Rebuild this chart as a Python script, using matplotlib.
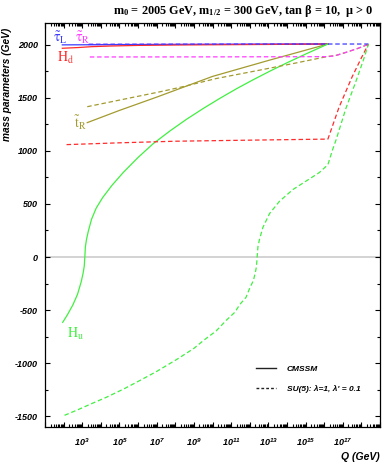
import numpy as np
import matplotlib
matplotlib.use("Agg")
import matplotlib.pyplot as plt
from matplotlib.ticker import FixedLocator, FixedFormatter, LogLocator, MultipleLocator, NullFormatter
from matplotlib.lines import Line2D

# ---------------------------------------------------------------
# data: log10(Q/GeV) and mass parameter (GeV)
# ---------------------------------------------------------------
# CMSSM (solid)
tauL_q = [1.93, 8.0, 16.2]
tauL_m = [1997, 2001, 2005]
tauR_q = [3.35, 10.0, 16.2]
tauR_m = [2000, 2002, 2005]
hd_q = [1.93, 2.8, 3.5, 4.5, 6.0, 8.0, 10.0, 13.0, 16.2]
hd_m = [1965, 1972, 1980, 1986, 1992, 1996, 1998, 2001, 2005]
tR_q = [3.27, 5.0, 7.0, 10.0, 13.0, 16.2]
tR_m = [1265, 1380, 1505, 1700, 1850, 2005]
hu_q = [1.95, 2.2, 2.5, 2.75, 2.95, 3.05, 3.11, 3.14, 3.17, 3.23, 3.33, 3.5, 3.75, 4.1,
        4.6, 5.2, 6.0, 6.8, 7.7, 8.6, 9.5, 10.4, 11.3, 12.2, 13.1, 14.0, 15.0, 16.2]
hu_m = [-615, -545, -450, -350, -230, -150, -85, 0, 96, 166, 245, 355, 460, 560,
        675, 795, 937, 1065, 1185, 1296, 1398, 1494, 1585, 1670, 1751, 1828, 1910, 2005]

# SU(5): lambda = 1, lambda' = 0.1 (dashed)
tauL5_q = [3.35, 10.0, 16.2, 18.38]
tauL5_m = [2003, 2004, 2005, 2005]
tauR5_q = [3.41, 10.0, 16.2, 16.6, 17.2, 17.8, 18.38]
tauR5_m = [1883, 1884, 1886, 1895, 1928, 1963, 2003]
tR5_q = [3.27, 5.5, 7.2, 8.4, 10.2, 12.5, 14.3, 16.2, 16.6, 17.2, 17.8, 18.38]
tR5_m = [1415, 1495, 1556, 1603, 1680, 1758, 1820, 1888, 1896, 1928, 1963, 2003]
hd5_q = [2.16, 5.0, 8.0, 12.0, 16.2, 16.8, 17.5, 18.0, 18.38]
hd5_m = [1058, 1075, 1090, 1100, 1110, 1410, 1695, 1875, 2005]
hu5_q = [2.05, 2.8, 3.44, 4.3, 5.22, 6.1, 7.01, 8.08, 9.0, 9.5, 10.2, 10.75, 11.2, 11.47,
         11.8, 12.0, 12.2, 12.3, 12.36, 12.4, 12.44, 12.53, 12.71, 13.07, 13.6, 14.32,
         15.03, 15.74, 16.2, 16.45, 16.64, 17.17, 17.7, 18.1, 18.38]
hu5_m = [-1490, -1435, -1385, -1320, -1243, -1162, -1076, -964, -860, -788, -695, -594,
         -520, -446, -380, -293, -220, -146, -93, 0, 95, 170, 280, 410, 525, 635,
         715, 795, 869, 1009, 1103, 1400, 1650, 1850, 2003]

y_ticks = [-1500, -1000, -500, 0, 500, 1000, 1500, 2000]
x_decades = list(range(1, 20))
x_label_exps = [3, 5, 7, 9, 11, 13, 15, 17]

# ---------------------------------------------------------------
plt.rcParams['mathtext.fontset'] = 'custom'
plt.rcParams['mathtext.rm'] = 'Liberation Serif'
plt.rcParams['mathtext.it'] = 'Liberation Serif:italic'
plt.rcParams['mathtext.bf'] = 'Liberation Serif:bold'
plt.rcParams['mathtext.sf'] = 'Liberation Sans:italic:bold'
plt.rcParams['axes.unicode_minus'] = False

c_blue = '#3c3cff'
c_mag = '#ff3cff'
c_red = '#ff2a2a'
c_olive = '#a39b2f'
c_green = '#40f040'
lw = 0.9
dash = (3.6, 2.2)

fig = plt.figure(figsize=(3.82, 4.66), dpi=100)
ax = fig.add_axes([45 / 382, 39 / 466, 335 / 382, 403.7 / 466])

ax.axhline(0, color='#cccccc', lw=1.2, zorder=1)

def q(v):
    return 10.0 ** np.array(v)

# solid
ax.plot(q(tauR_q), tauR_m, color=c_mag, lw=lw)
ax.plot(q(tauL_q), tauL_m, color=c_blue, lw=lw)
ax.plot(q(hd_q), hd_m, color=c_red, lw=lw)
ax.plot(q(tR_q), tR_m, color=c_olive, lw=lw)
ax.plot(q(hu_q), hu_m, color=c_green, lw=lw)
# dashed
ax.plot(q(tR5_q), tR5_m, color=c_olive, lw=lw, dashes=dash)
ax.plot(q(tauR5_q), tauR5_m, color=c_mag, lw=lw, dashes=dash)
ax.plot(q(tauL5_q), tauL5_m, color=c_blue, lw=lw, dashes=dash)
ax.plot(q(hd5_q), hd5_m, color=c_red, lw=lw, dashes=dash)
ax.plot(q(hu5_q), hu5_m, color=c_green, lw=lw, dashes=dash)

# curve labels (Times-like STIX math so the tildes sit properly)
lab = dict(fontsize=10, ha='center', va='center', math_fontfamily='stix')
ax.text(10 ** 1.84, 2068, r'$\mathrm{\tilde{\tau}_L}$', color=c_blue, **lab)
ax.text(10 ** 3.02, 2068, r'$\mathrm{\tilde{\tau}_R}$', color=c_mag, **lab)
ax.text(10 ** 2.11, 1872, r'$\mathrm{H_d}$', color=c_red, **lab)
ax.text(10 ** 2.91, 1262, r'$\mathrm{\tilde{t}_R}$', color=c_olive, **lab)
ax.text(10 ** 2.64, -724, r'$\mathrm{H_u}$', color=c_green, **lab)

# axes
ax.set_xscale('log')
ax.set_xlim(10, 1e19)
ax.set_ylim(-1600, 2200)

ax.xaxis.set_major_locator(FixedLocator([10.0 ** k for k in x_decades]))
ax.xaxis.set_major_formatter(FixedFormatter(
    [r'$\mathsf{10^{%d}}$' % k if k in x_label_exps else '' for k in x_decades]))
ax.xaxis.set_minor_locator(LogLocator(base=10, subs=np.arange(2, 10), numticks=100))
ax.xaxis.set_minor_formatter(NullFormatter())

ax.yaxis.set_major_locator(FixedLocator(y_ticks))
ax.yaxis.set_major_formatter(FixedFormatter([str(v) for v in y_ticks]))
ax.yaxis.set_minor_locator(MultipleLocator(250))

ax.tick_params(which='both', direction='in', top=True, right=True, width=0.8)
ax.tick_params(which='major', length=3.6)
ax.tick_params(which='minor', length=2.0)
ax.tick_params(axis='y', pad=5)
ax.tick_params(axis='x', pad=7)
for t in ax.get_yticklabels() + ax.get_xticklabels():
    t.set_fontfamily('Liberation Sans')
    t.set_fontweight('bold')
    t.set_fontstyle('italic')
    t.set_fontsize(6.5)
for s in ax.spines.values():
    s.set_linewidth(0.9)

# legend
handles = [Line2D([], [], color='#222222', lw=1.0),
           Line2D([], [], color='#222222', lw=1.0, dashes=(2, 1.5))]
leg = ax.legend(handles, ['CMSSM', "SU(5): \u03bb=1, \u03bb' = 0.1"],
                loc='upper left', bbox_to_anchor=(0.63, 0.153), frameon=False,
                borderpad=0, borderaxespad=0, handlelength=2.4, handletextpad=1.3,
                labelspacing=1.4,
                prop=dict(family='Liberation Sans', weight='bold', style='italic', size=6))

# titles and axis names
fig.text(373 / 382, 1 - 11 / 466,
         'm$_\\mathbf{0}$ = 2005 GeV, m$_\\mathbf{1/2}$ = 300 GeV, tan \u03b2 = 10,  \u03bc > 0',
         ha='right', va='center', family='Liberation Serif', weight='bold', fontsize=8.8)
fig.text(7 / 382, 1 - 84 / 466, 'mass parameters (GeV)', rotation=90, ha='center',
         va='center', family='Liberation Sans', weight='bold', style='italic', fontsize=7.3)
fig.text(380 / 382, 1 - 457 / 466, 'Q (GeV)', ha='right', va='center',
         family='Liberation Sans', weight='bold', style='italic', fontsize=7.5)

fig.savefig('out.png', dpi=100)
